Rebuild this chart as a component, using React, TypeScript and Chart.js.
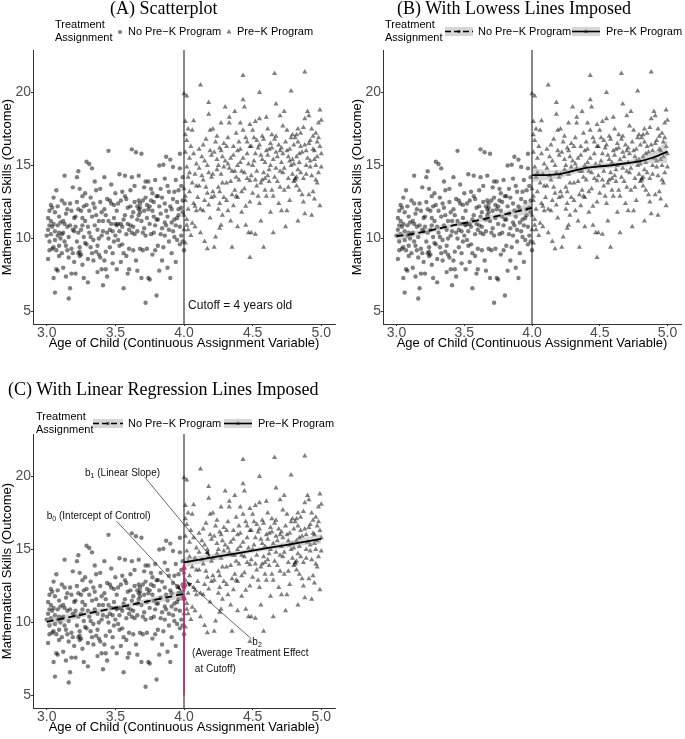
import React, { useEffect, useRef } from 'react';
import { Chart, registerables } from 'chart.js';

Chart.register(...registerables);

// ---------- data ----------
const controlPoints: number[][] = [
  [3.00,10.2],[3.01,10.6],[3.02,9.8],[3.02,10.9],[3.03,12.3],[3.04,12.1],[3.03,11.2],[3.05,9.4],[3.01,8.6],[3.06,10.5],[3.04,9.3],[3.07,13.3],[3.06,11.8],[3.08,10.9],[3.07,7.9],[3.08,7.8],[3.09,8.8],[3.06,6.3],[3.09,9.5],[3.05,12.8],[3.08,10.2],[3.10,10.0],[3.09,11.5],[3.03,10.3],[3.07,9.2],[3.05,7.3],
  [3.01,11.4],[3.02,9.2],[3.04,10.8],[3.06,9.9],[3.08,12.2],[3.10,11.1],[3.02,11.9],[3.09,10.4],[3.05,11.0],
  [3.11,12.6],[3.12,10.4],[3.13,14.3],[3.13,11.0],[3.14,9.5],[3.15,10.8],[3.15,12.0],[3.16,8.7],[3.16,5.9],[3.17,6.6],[3.17,10.9],[3.18,11.9],[3.18,9.3],[3.19,10.6],[3.19,13.5],[3.12,8.0],[3.14,7.4],[3.11,9.0],[3.20,8.4],[3.20,11.4],[3.13,12.4],[3.18,7.6],
  [3.11,10.3],[3.13,9.8],[3.14,11.7],[3.16,10.1],[3.17,12.4],[3.19,9.0],[3.12,11.2],[3.15,9.2],[3.20,10.5],
  [3.21,10.8],[3.22,14.2],[3.22,12.5],[3.23,14.6],[3.23,9.0],[3.24,9.1],[3.24,8.8],[3.25,10.6],[3.25,11.9],[3.26,12.9],[3.26,8.2],[3.27,7.3],[3.27,10.1],[3.28,13.1],[3.28,11.2],[3.29,15.25],[3.29,9.6],[3.30,8.6],[3.30,7.0],[3.21,7.6],[3.24,13.4],[3.26,10.9],[3.29,12.3],[3.22,9.8],
  [3.21,11.5],[3.23,10.4],[3.24,9.4],[3.25,8.9],[3.26,11.4],[3.27,12.2],[3.28,9.7],[3.30,10.8],[3.23,12.0],
  [3.31,15.1],[3.31,10.4],[3.32,12.8],[3.33,14.8],[3.33,11.5],[3.34,8.5],[3.34,9.9],[3.35,10.9],[3.35,12.1],[3.36,9.1],[3.36,13.3],[3.37,10.6],[3.37,7.7],[3.38,11.2],[3.38,8.9],[3.39,8.7],[3.39,12.5],[3.40,7.9],[3.40,10.2],[3.32,9.4],[3.35,13.9],
  [3.31,11.9],[3.32,10.1],[3.33,9.0],[3.34,12.4],[3.36,11.6],[3.37,9.5],[3.38,10.0],[3.40,11.8],[3.39,13.4],
  [3.41,6.8],[3.41,11.2],[3.42,14.2],[3.42,8.5],[3.43,11.6],[3.43,7.9],[3.44,7.4],[3.44,12.7],[3.45,16.0],[3.45,10.0],[3.46,12.6],[3.46,9.4],[3.47,13.7],[3.47,11.0],[3.48,10.5],[3.48,8.3],[3.49,12.3],[3.49,9.8],[3.50,11.0],[3.50,13.1],[3.44,10.4],
  [3.41,10.5],[3.42,12.0],[3.43,9.1],[3.45,11.2],[3.46,10.6],[3.47,12.4],[3.48,9.0],[3.50,10.2],[3.49,11.4],
  [3.51,7.9],[3.51,10.9],[3.52,12.4],[3.53,14.4],[3.53,9.5],[3.54,8.4],[3.54,11.0],[3.55,10.8],[3.55,13.2],[3.56,6.6],[3.56,9.0],[3.57,14.3],[3.57,11.6],[3.58,8.8],[3.58,10.3],[3.59,12.1],[3.59,7.6],[3.60,7.9],[3.60,10.6],[3.52,9.9],[3.57,12.9],
  [3.51,11.9],[3.52,11.0],[3.53,10.5],[3.54,12.6],[3.55,9.6],[3.56,11.3],[3.58,12.7],[3.59,11.0],[3.60,9.3],
  [3.61,13.3],[3.62,16.1],[3.62,14.2],[3.62,10.4],[3.63,11.8],[3.63,9.2],[3.64,12.5],[3.64,10.3],[3.65,15.9],[3.65,8.5],[3.66,12.2],[3.66,11.3],[3.67,14.3],[3.67,12.0],[3.68,11.8],[3.68,12.1],[3.69,15.8],[3.69,7.3],[3.70,9.2],[3.70,12.6],[3.66,7.8],[3.61,10.9],[3.68,9.3],
  [3.61,12.2],[3.62,11.5],[3.63,10.8],[3.64,13.6],[3.66,10.5],[3.67,11.6],[3.68,12.4],[3.69,11.2],[3.70,10.4],[3.67,12.6],
  [3.71,13.5],[3.71,10.7],[3.72,5.6],[3.72,12.8],[3.73,11.4],[3.73,9.3],[3.74,13.9],[3.74,7.3],[3.75,12.2],[3.75,7.2],[3.76,10.3],[3.76,13.4],[3.77,11.9],[3.77,8.9],[3.78,12.5],[3.78,10.4],[3.79,9.2],[3.79,14.0],[3.80,6.1],[3.80,11.3],[3.74,12.0],[3.77,13.1],
  [3.71,11.9],[3.72,10.2],[3.73,12.3],[3.75,11.0],[3.76,12.6],[3.78,11.5],[3.79,10.9],[3.80,12.9],[3.72,13.9],
  [3.81,9.5],[3.81,12.9],[3.82,15.0],[3.82,7.8],[3.83,11.7],[3.83,13.4],[3.84,10.7],[3.84,8.5],[3.85,15.05],[3.85,9.4],[3.86,11.1],[3.86,12.4],[3.87,15.6],[3.87,10.9],[3.88,8.0],[3.88,11.5],[3.89,13.2],[3.89,9.8],[3.90,15.4],[3.90,7.3],[3.86,14.1],
  [3.81,11.3],[3.82,12.2],[3.83,10.3],[3.84,12.8],[3.86,10.2],[3.87,11.9],[3.88,13.6],[3.89,10.6],[3.90,12.2],
  [3.91,12.0],[3.91,9.0],[3.92,14.9],[3.92,10.5],[3.93,13.2],[3.93,11.3],[3.94,10.9],[3.94,8.4],[3.95,12.5],[3.95,9.9],[3.96,13.3],[3.96,11.6],[3.97,15.8],[3.97,9.6],[3.98,12.1],[3.98,10.2],[3.99,14.2],[3.99,11.8],[4.00,9.2],[3.99,12.6],[3.94,14.0],
  [3.91,11.1],[3.92,12.7],[3.93,10.1],[3.95,11.4],[3.96,12.0],[3.97,10.8],[3.98,13.6],[3.99,9.8],[3.97,14.8],
];

const preKPoints: number[][] = [
  [4.00,19.9],[4.02,19.75],[4.01,18.0],[4.03,17.5],[4.06,17.4],[4.07,18.05],[4.04,15.5],[4.03,14.2],[4.08,14.4],[4.00,13.4],[4.04,13.2],[4.09,11.9],[4.02,11.3],[4.06,11.05],[4.08,10.8],[4.01,15.9],[4.05,16.3],[4.07,12.4],[4.03,12.0],[4.09,15.1],[4.10,12.8],[4.05,10.2],[4.02,14.9],
  [4.01,12.6],[4.02,16.7],[4.03,10.6],[4.04,14.5],[4.06,13.8],[4.07,15.8],[4.08,12.2],[4.09,13.6],[4.01,17.1],[4.00,10.6],[4.01,9.7],[4.02,10.9],[4.00,11.6],[4.01,12.9],
  [4.12,20.5],[4.18,19.3],[4.18,18.5],[4.13,15.6],[4.15,15.3],[4.18,14.5],[4.15,12.6],[4.14,11.9],[4.12,10.4],[4.15,9.8],[4.19,17.4],[4.11,13.6],[4.16,16.8],[4.17,13.1],[4.20,15.7],[4.20,12.8],[4.11,16.1],[4.14,14.0],[4.19,11.4],[4.17,9.3],
  [4.11,14.8],[4.12,12.0],[4.13,14.3],[4.14,16.4],[4.16,13.5],[4.17,15.0],[4.18,12.3],[4.19,16.0],[4.20,14.2],
  [4.21,17.5],[4.24,17.0],[4.27,17.9],[4.26,16.2],[4.27,16.0],[4.24,15.4],[4.24,14.7],[4.29,14.9],[4.21,13.2],[4.26,12.4],[4.23,10.1],[4.27,10.9],[4.26,10.7],[4.22,15.9],[4.28,13.8],[4.25,12.0],[4.29,16.5],[4.30,19.0],[4.22,9.4],[4.28,11.6],[4.25,13.5],
  [4.21,14.4],[4.22,12.9],[4.23,16.6],[4.25,15.0],[4.26,13.2],[4.27,14.4],[4.28,15.6],[4.29,12.8],[4.30,15.3],
  [4.31,16.3],[4.33,18.3],[4.33,17.9],[4.35,14.6],[4.36,15.7],[4.31,12.6],[4.36,12.25],[4.32,11.9],[4.37,18.7],[4.39,16.0],[4.39,15.0],[4.39,12.8],[4.39,10.8],[4.34,13.9],[4.38,14.2],[4.32,15.1],[4.37,13.3],[4.35,9.4],[4.40,16.6],[4.34,11.2],[4.38,17.2],
  [4.31,13.8],[4.32,16.9],[4.33,14.8],[4.34,15.5],[4.35,13.0],[4.36,16.3],[4.37,14.6],[4.38,12.9],[4.40,14.0],
  [4.43,21.16],[4.43,19.5],[4.44,19.0],[4.41,17.9],[4.43,17.4],[4.48,17.8],[4.50,17.4],[4.48,16.3],[4.49,16.3],[4.46,15.8],[4.44,14.5],[4.48,13.95],[4.42,13.2],[4.48,12.5],[4.45,10.9],[4.47,10.4],[4.49,10.4],[4.48,8.7],[4.41,15.2],[4.46,14.1],[4.42,11.8],[4.50,15.0],[4.45,16.9],
  [4.41,16.1],[4.42,14.6],[4.43,15.5],[4.44,13.4],[4.45,12.2],[4.46,16.6],[4.47,15.1],[4.49,14.3],[4.50,13.1],
  [4.55,20.0],[4.52,18.0],[4.55,18.2],[4.60,18.3],[4.53,16.7],[4.60,16.0],[4.56,15.7],[4.52,14.0],[4.58,14.5],[4.54,12.9],[4.59,13.3],[4.55,12.4],[4.58,9.4],[4.51,15.3],[4.57,17.0],[4.53,13.6],[4.59,15.2],[4.56,11.2],[4.52,10.3],[4.57,14.0],[4.54,16.2],
  [4.51,16.9],[4.52,15.8],[4.53,14.6],[4.55,16.4],[4.56,13.8],[4.57,15.4],[4.58,16.8],[4.59,14.1],[4.60,12.9],
  [4.66,21.3],[4.67,19.2],[4.61,17.5],[4.64,17.1],[4.67,17.0],[4.64,16.2],[4.70,16.0],[4.65,15.4],[4.62,14.7],[4.67,14.8],[4.65,12.9],[4.70,13.5],[4.63,11.8],[4.65,10.4],[4.70,18.4],[4.61,15.7],[4.68,15.6],[4.62,13.9],[4.69,12.4],[4.66,14.2],[4.63,16.5],
  [4.61,14.3],[4.62,16.1],[4.63,15.0],[4.64,13.3],[4.66,16.8],[4.67,15.9],[4.68,13.9],[4.69,16.4],[4.70,14.6],
  [4.78,20.1],[4.73,18.7],[4.72,17.7],[4.75,17.4],[4.77,16.1],[4.79,15.4],[4.72,14.5],[4.78,15.0],[4.71,11.9],[4.75,11.9],[4.73,13.3],[4.76,14.1],[4.74,16.6],[4.80,13.9],[4.77,12.6],[4.71,15.2],[4.79,17.1],[4.74,10.8],[4.76,15.6],[4.80,16.4],
  [4.71,16.2],[4.72,15.8],[4.73,14.8],[4.75,16.0],[4.76,13.5],[4.77,15.3],[4.78,16.9],[4.79,14.4],[4.80,15.1],
  [4.88,21.4],[4.90,18.7],[4.88,18.2],[4.83,17.5],[4.87,17.6],[4.82,17.1],[4.83,16.6],[4.89,16.0],[4.84,15.8],[4.82,14.2],[4.85,14.5],[4.81,14.1],[4.89,14.4],[4.88,11.7],[4.83,11.2],[4.86,13.0],[4.84,15.2],[4.81,14.0],[4.87,12.5],[4.90,15.5],[4.85,16.3],[4.82,13.6],
  [4.81,16.9],[4.82,15.6],[4.83,14.7],[4.84,13.3],[4.85,17.2],[4.86,15.9],[4.87,14.1],[4.88,16.4],[4.89,15.0],
  [4.99,18.8],[4.91,18.4],[5.00,18.1],[4.93,17.5],[4.96,17.2],[4.98,17.9],[4.94,16.1],[4.99,16.3],[4.95,15.4],[4.92,14.9],[4.98,14.5],[4.95,12.7],[4.99,12.25],[4.97,13.8],[4.93,11.6],[4.96,15.0],[4.92,16.7],[5.00,14.9],[4.94,13.2],[4.97,16.6],
  [4.91,16.5],[4.92,15.3],[4.93,14.3],[4.94,17.0],[4.95,16.0],[4.96,14.0],[4.97,15.6],[4.98,16.9],[5.00,15.8],[4.91,13.0],
];

// lowess fits (panel B)
const controlLowessAge = [3.0, 3.1, 3.2, 3.3, 3.4, 3.5, 3.6, 3.7, 3.8, 3.9, 4.0];
const controlLowessFit = [10.16, 10.28, 10.46, 10.66, 10.86, 11.06, 11.24, 11.45, 11.65, 11.87, 12.1];
const controlLowessLow = [9.86, 10.06, 10.28, 10.5, 10.71, 10.91, 11.08, 11.27, 11.43, 11.56, 11.62];
const controlLowessHigh = [10.46, 10.5, 10.64, 10.82, 11.01, 11.21, 11.4, 11.63, 11.87, 12.18, 12.6];

const preKLowessAge = [4.0, 4.1, 4.2, 4.3, 4.4, 4.5, 4.6, 4.7, 4.8, 4.9, 5.0];
const preKLowessFit = [14.34, 14.34, 14.4, 14.62, 14.83, 14.93, 15.03, 15.15, 15.3, 15.56, 15.95];
const preKLowessLow = [13.85, 13.98, 14.12, 14.4, 14.62, 14.73, 14.84, 14.95, 15.06, 15.2, 15.15];
const preKLowessHigh = [14.85, 14.7, 14.68, 14.84, 15.04, 15.13, 15.22, 15.35, 15.55, 15.92, 16.75];

// linear fits (panel C)
const controlLinearAge = [3.0, 3.25, 3.5, 3.75, 4.0];
const controlLinearFit = [10.05, 10.53, 11.0, 11.48, 11.96];
const controlLinearLow = [9.75, 10.33, 10.86, 11.28, 11.66];
const controlLinearHigh = [10.35, 10.73, 11.14, 11.68, 12.26];

const preKLinearAge = [4.0, 4.25, 4.5, 4.75, 5.0];
const preKLinearFit = [14.12, 14.52, 14.92, 15.32, 15.72];
const preKLinearLow = [13.8, 14.32, 14.77, 15.12, 15.4];
const preKLinearHigh = [14.44, 14.72, 15.07, 15.52, 16.04];

const xTickValues = [3.0, 3.5, 4.0, 4.5, 5.0];
const yTickValues = [5, 10, 15, 20];
const cutoffAge = 4.0;
const controlInterceptAtCutoff = 11.98;
const preKInterceptAtCutoff = 14.05;

// ---------- styling ----------
const SANS = '"Liberation Sans", Arial, sans-serif';
const SERIF = '"Liberation Serif", "Times New Roman", serif';
const X_MIN = 2.9, X_MAX = 5.1, Y_MIN = 4.15, Y_MAX = 22.9;
const POINT_FILL = 'rgba(0,0,0,0.5)';
const BAND_FILL = 'rgba(153,153,153,0.4)';
const PINK = 'rgb(200, 44, 104)';

const zip = (xs: number[], ys: number[]) => xs.map((x, i) => ({ x, y: ys[i] }));

function bandDatasets(age: number[], low: number[], high: number[]) {
  return [
    { type: 'line', data: zip(age, high), fill: '+1', backgroundColor: BAND_FILL, borderWidth: 0, pointRadius: 0, tension: 0.3, order: 6 },
    { type: 'line', data: zip(age, low), fill: false, borderWidth: 0, pointRadius: 0, tension: 0.3, order: 6 },
  ];
}
function fitDataset(age: number[], fit: number[], dashed: boolean) {
  return {
    type: 'line', data: zip(age, fit), fill: false, borderColor: '#000', borderWidth: 1.8,
    borderDash: dashed ? [7, 4] : [], pointRadius: 0, tension: 0.3, order: 2,
  };
}

function arrow(ctx: CanvasRenderingContext2D, x1: number, y1: number, x2: number, y2: number, color: string, width: number, head: number) {
  const ang = Math.atan2(y2 - y1, x2 - x1);
  ctx.strokeStyle = color;
  ctx.lineWidth = width;
  ctx.beginPath();
  ctx.moveTo(x1, y1);
  ctx.lineTo(x2 - Math.cos(ang) * head * 0.7, y2 - Math.sin(ang) * head * 0.7);
  ctx.stroke();
  ctx.fillStyle = color;
  ctx.beginPath();
  ctx.moveTo(x2, y2);
  ctx.lineTo(x2 - head * Math.cos(ang - 0.42), y2 - head * Math.sin(ang - 0.42));
  ctx.lineTo(x2 - head * Math.cos(ang + 0.42), y2 - head * Math.sin(ang + 0.42));
  ctx.closePath();
  ctx.fill();
}

function subLabel(ctx: CanvasRenderingContext2D, x: number, y: number, base: string, sub: string, rest: string) {
  ctx.font = `10px ${SANS}`;
  ctx.fillText(base, x, y);
  let cx = x + ctx.measureText(base).width;
  ctx.font = `7px ${SANS}`;
  ctx.fillText(sub, cx, y + 3);
  cx += ctx.measureText(sub).width;
  ctx.font = `10px ${SANS}`;
  ctx.fillText(rest, cx, y);
}

function overlayPlugin(panel: string) {
  return {
    id: 'overlay' + panel,
    afterDatasetsDraw(chart: any) {
      const { ctx } = chart;
      const xs = chart.scales.x, ys = chart.scales.y;
      const px = (v: number) => xs.getPixelForValue(v);
      const py = (v: number) => ys.getPixelForValue(v);
      ctx.save();
      ctx.textBaseline = 'middle';
      ctx.textAlign = 'left';
      if (panel === 'A') {
        ctx.fillStyle = '#111';
        ctx.font = `12px ${SANS}`;
        ctx.fillText('Cutoff = 4 years old', px(4.03), py(5.37));
      }
      if (panel === 'C') {
        const cx = px(cutoffAge);
        arrow(ctx, cx, py(5.0), cx, py(controlInterceptAtCutoff), PINK, 1.6, 7);
        const mid = (controlInterceptAtCutoff + preKInterceptAtCutoff) / 2;
        arrow(ctx, cx, py(mid), cx, py(preKInterceptAtCutoff), PINK, 1.6, 7);
        arrow(ctx, cx, py(mid), cx, py(controlInterceptAtCutoff + 0.08), PINK, 1.6, 7);
        arrow(ctx, px(3.715), py(19.94), px(4.19), py(14.55), '#222', 0.7, 6);
        arrow(ctx, px(3.509), py(16.93), px(3.98), py(12.19), '#222', 0.7, 6);
        arrow(ctx, px(4.49), py(8.89), px(4.018), py(12.8), '#222', 0.7, 6);
        ctx.fillStyle = '#111';
        subLabel(ctx, px(3.279), py(20.2), 'b', '1', ' (Linear Slope)');
        subLabel(ctx, px(3.0), py(17.3), 'b', '0', ' (Intercept of Control)');
        subLabel(ctx, px(4.498), py(8.65), 'b', '2', '');
        ctx.font = `10px ${SANS}`;
        ctx.fillText('(Average Treatment Effect', px(4.059), py(7.9));
        ctx.fillText('at Cutoff)', px(4.079), py(6.83));
      }
      ctx.restore();
    },
  };
}

function buildConfig(panel: string, rightPad: number): any {
  const datasets: any[] = [
    {
      type: 'scatter', label: 'No Pre−K Program', data: controlPoints.map(([x, y]) => ({ x, y })),
      pointStyle: 'circle', pointRadius: 2.2, pointBackgroundColor: POINT_FILL, pointBorderWidth: 0, order: 10,
    },
    {
      type: 'scatter', label: 'Pre−K Program', data: preKPoints.map(([x, y]) => ({ x, y })),
      pointStyle: 'triangle', pointRadius: 3.0, pointBackgroundColor: POINT_FILL, pointBorderWidth: 0, order: 10,
    },
    {
      type: 'line', data: [{ x: cutoffAge, y: Y_MIN }, { x: cutoffAge, y: Y_MAX }],
      borderColor: '#111', borderWidth: 1, pointRadius: 0, fill: false, order: 4,
    },
  ];
  if (panel === 'B') {
    datasets.push(...bandDatasets(controlLowessAge, controlLowessLow, controlLowessHigh));
    datasets.push(...bandDatasets(preKLowessAge, preKLowessLow, preKLowessHigh));
    datasets.push(fitDataset(controlLowessAge, controlLowessFit, true));
    datasets.push(fitDataset(preKLowessAge, preKLowessFit, false));
  }
  if (panel === 'C') {
    datasets.push(...bandDatasets(controlLinearAge, controlLinearLow, controlLinearHigh));
    datasets.push(...bandDatasets(preKLinearAge, preKLinearLow, preKLinearHigh));
    datasets.push(fitDataset(controlLinearAge, controlLinearFit, true));
    datasets.push(fitDataset(preKLinearAge, preKLinearFit, false));
  }
  const axisCommon = {
    grid: { display: true, drawOnChartArea: false, drawTicks: true, tickLength: 2, color: '#333' },
    border: { display: true, color: '#333', width: 1 },
  };
  return {
    type: 'scatter',
    data: { datasets },
    options: {
      animation: false,
      responsive: false,
      maintainAspectRatio: false,
      events: [],
      layout: { padding: { top: 50, right: rightPad, left: 0, bottom: 0 } },
      plugins: { legend: { display: false }, title: { display: false }, tooltip: { enabled: false } },
      scales: {
        x: {
          type: 'linear', min: X_MIN, max: X_MAX,
          afterBuildTicks: (s: any) => { s.ticks = xTickValues.map((v) => ({ value: v })); },
          afterFit: (s: any) => { s.height = 31; },
          ticks: {
            callback: (v: any) => Number(v).toFixed(1), font: { family: SANS, size: 14, lineHeight: 1.0 },
            color: '#4d4d4d', padding: 0, maxRotation: 0, autoSkip: false,
          },
          ...axisCommon,
          title: {
            display: true, text: 'Age of Child (Continuous Assignment Variable)',
            font: { family: SANS, size: 13 }, color: '#000', padding: { top: 0, bottom: 4 },
          },
        },
        y: {
          type: 'linear', min: Y_MIN, max: Y_MAX,
          afterBuildTicks: (s: any) => { s.ticks = yTickValues.map((v) => ({ value: v })); },
          afterFit: (s: any) => { s.width = 33; },
          ticks: { callback: (v: any) => String(v), font: { family: SANS, size: 14 }, color: '#4d4d4d', padding: 0, autoSkip: false },
          ...axisCommon,
          title: {
            display: true, text: 'Mathematical Skills (Outcome)',
            font: { family: SANS, size: 13 }, color: '#000', padding: { top: 0, bottom: 0 },
          },
        },
      },
    },
    plugins: [overlayPlugin(panel)],
  };
}

function Panel({ panel, left, top, width, height, rightPad }: any) {
  const ref = useRef<HTMLCanvasElement>(null);
  useEffect(() => {
    if (!ref.current) return;
    const chart = new Chart(ref.current, buildConfig(panel, rightPad));
    return () => chart.destroy();
  }, [panel, rightPad]);
  return (
    <canvas ref={ref} width={width} height={height}
      style={{ position: 'absolute', left, top, width, height }} />
  );
}

function Txt({ x, yc, text, size = 11, family = SANS }: any) {
  return (
    <div style={{
      position: 'absolute', left: x, top: yc - 0.489 * size, fontSize: size, lineHeight: `${size}px`,
      fontFamily: family, color: '#000', whiteSpace: 'nowrap',
    }}>{text}</div>
  );
}

function Title({ x, baseline, text }: any) {
  return (
    <div style={{
      position: 'absolute', left: x, top: baseline - 15.1, fontSize: 18, lineHeight: '18px',
      fontFamily: SERIF, color: '#000', whiteSpace: 'nowrap',
    }}>{text}</div>
  );
}

function Marker({ cx, cy, kind }: any) {
  return (
    <svg style={{ position: 'absolute', left: cx - 4, top: cy - 4 }} width={8} height={8}>
      {kind === 'circle'
        ? <circle cx={4} cy={4} r={2.1} fill={POINT_FILL} />
        : <polygon points={`4,1.1 6.5,5.45 1.5,5.45`} fill={POINT_FILL} />}
    </svg>
  );
}

function LineKey({ x, cy, w, dashed, kind }: any) {
  const h = 9;
  return (
    <svg style={{ position: 'absolute', left: x, top: cy - h / 2 }} width={w} height={h}>
      <rect x={0} y={0} width={w} height={h} fill="#d6d6d6" />
      <line x1={0} y1={h / 2} x2={w} y2={h / 2} stroke="#000" strokeWidth={1.6} strokeDasharray={dashed ? '6 3' : undefined} />
      {kind === 'circle'
        ? <circle cx={w / 2} cy={h / 2} r={1.8} fill={POINT_FILL} />
        : <polygon points={`${w / 2},${h / 2 - 2.4} ${w / 2 + 2.1},${h / 2 + 1.2} ${w / 2 - 2.1},${h / 2 + 1.2}`} fill={POINT_FILL} />}
    </svg>
  );
}

export default function App() {
  return (
    <div style={{ position: 'absolute', left: 0, top: 0, width: 685, height: 739, background: '#fff', overflow: 'hidden' }}>
      <Panel panel="A" left={0} top={0} width={345} height={355} rightPad={10} />
      <Panel panel="B" left={350} top={0} width={335} height={355} rightPad={0} />
      <Panel panel="C" left={0} top={384} width={345} height={355} rightPad={10} />

      <Title x={110} baseline={14.5} text="(A) Scatterplot" />
      <Title x={397} baseline={14.5} text="(B) With Lowess Lines Imposed" />
      <Title x={8} baseline={395} text="(C) With Linear Regression Lines Imposed" />

      {/* legend A */}
      <Txt x={55} yc={24.5} text="Treatment" />
      <Txt x={55} yc={37.5} text="Assignment" />
      <Marker cx={120} cy={31.7} kind="circle" />
      <Txt x={128} yc={31.7} text="No Pre−K Program" />
      <Marker cx={229} cy={31.7} kind="triangle" />
      <Txt x={237} yc={31.7} text="Pre−K Program" />

      {/* legend B */}
      <Txt x={385} yc={24.5} text="Treatment" />
      <Txt x={385} yc={37.5} text="Assignment" />
      <LineKey x={445} cy={31.7} w={28} dashed kind="circle" />
      <Txt x={478} yc={31.7} text="No Pre−K Program" />
      <LineKey x={572} cy={31.7} w={28} kind="triangle" />
      <Txt x={606} yc={31.7} text="Pre−K Program" />

      {/* legend C */}
      <Txt x={36} yc={416} text="Treatment" />
      <Txt x={36} yc={429.5} text="Assignment" />
      <LineKey x={93} cy={423} w={30} dashed kind="circle" />
      <Txt x={128} yc={423} text="No Pre−K Program" />
      <LineKey x={224} cy={423} w={28} kind="triangle" />
      <Txt x={258} yc={423} text="Pre−K Program" />
    </div>
  );
}
